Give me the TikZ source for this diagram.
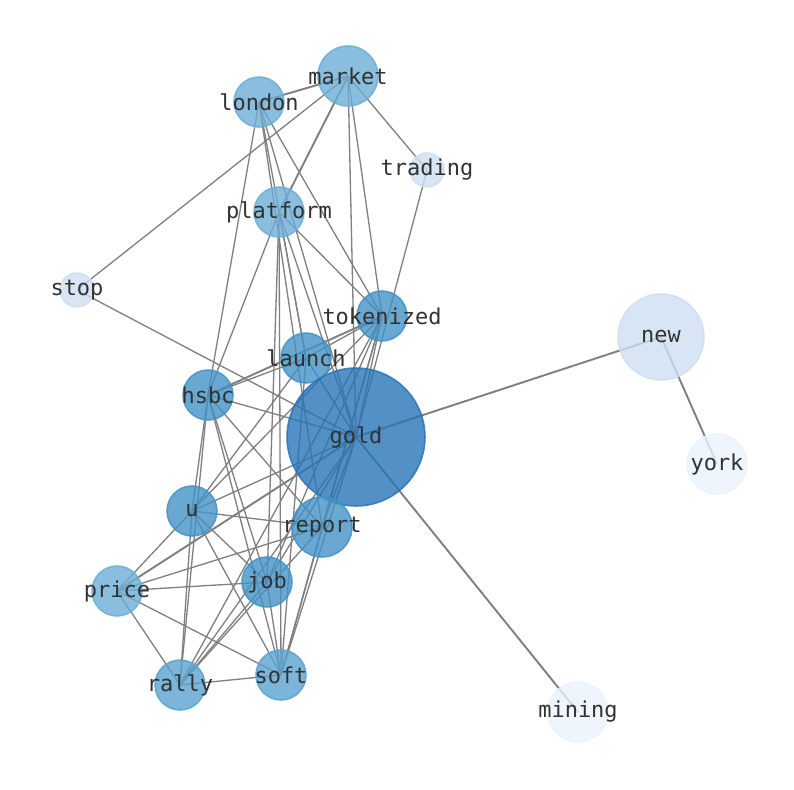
\documentclass[tikz,border=0pt]{standalone}
\usepackage{fontspec}
\setmainfont{DejaVu Sans Mono}
\usetikzlibrary{backgrounds}

\definecolor{bluedeep}{RGB}{40,116,182}
\definecolor{bluemid}{RGB}{66,146,198}
\definecolor{bluesoft}{RGB}{90,162,207}
\definecolor{bluelight}{RGB}{107,174,214}
\definecolor{bluepale}{RGB}{206,223,241}
\definecolor{bluefaint}{RGB}{234,242,251}
\definecolor{labelgray}{RGB}{50,50,50}
\definecolor{edgegray}{RGB}{128,128,128}

\newcommand{\wordlabel}[1]{\makebox[0pt]{#1}}

\tikzset{
  word/.style={circle, inner sep=0pt, fill=#1, draw=#1, line width=0.9pt,
    fill opacity=0.8, draw opacity=0.85, text opacity=1, text=labelgray,
    font=\fontsize{12.5}{15}\selectfont},
  rad/.style={minimum size={#1*0.04cm}},
  link/.style={edgegray, line width=0.75pt},
  heavy/.style={edgegray, line width=1.1pt}
}

\begin{document}
\begin{tikzpicture}[x=0.02cm, y=-0.02cm]
  \useasboundingbox (0,0) rectangle (794,790);

  % words
  \node[word=bluelight, rad=30] (market) at (348,76) {\wordlabel{market}};
  \node[word=bluelight, rad=25] (london) at (259,102) {\wordlabel{london}};
  \node[word=bluepale, rad=17] (trading) at (427,170) {\wordlabel{trading}};
  \node[word=bluelight, rad=25] (platform) at (279,212) {\wordlabel{platform}};
  \node[word=bluepale, rad=17] (stop) at (77,290) {\wordlabel{stop}};
  \node[word=bluemid, rad=25] (tokenized) at (382,316) {\wordlabel{tokenized}};
  \node[word=bluepale, rad=43] (new) at (661,337) {\wordlabel{new}};
  \node[word=bluemid, rad=25] (launch) at (306,358) {\wordlabel{launch}};
  \node[word=bluemid, rad=25] (hsbc) at (208,395) {\wordlabel{hsbc}};
  \node[word=bluedeep, rad=69] (gold) at (356,437) {\wordlabel{gold}};
  \node[word=bluefaint, rad=30] (york) at (717,464) {\wordlabel{york}};
  \node[word=bluemid, rad=25] (u) at (192,511) {\wordlabel{u}};
  \node[word=bluemid, rad=30] (report) at (322,527) {\wordlabel{report}};
  \node[word=bluelight, rad=25] (price) at (117,591) {\wordlabel{price}};
  \node[word=bluemid, rad=25] (job) at (267,582) {\wordlabel{job}};
  \node[word=bluesoft, rad=25] (rally) at (180,685) {\wordlabel{rally}};
  \node[word=bluesoft, rad=25] (soft) at (281,675) {\wordlabel{soft}};
  \node[word=bluefaint, rad=30] (mining) at (578,712) {\wordlabel{mining}};

  % co-occurrence links
  \begin{scope}[on background layer]
    \draw[heavy] (market.center) -- (london.center)
                 (market.center) -- (platform.center)
                 (gold.center) -- (new.center)
                 (gold.center) -- (mining.center)
                 (new.center) -- (york.center)
                 (tokenized.center) -- (hsbc.center)
                 (price.center) -- (gold.center);
    \foreach \a/\b in {market/stop, market/trading, market/gold, market/tokenized,
        london/hsbc, london/launch, london/gold, london/report, london/tokenized,
        trading/gold, stop/gold,
        platform/hsbc, platform/launch, platform/tokenized, platform/job,
        platform/soft, platform/gold,
        tokenized/launch, tokenized/u, tokenized/gold, tokenized/report,
        tokenized/job, tokenized/soft, tokenized/rally,
        launch/hsbc, launch/gold, launch/u, launch/soft,
        hsbc/gold, hsbc/u, hsbc/rally, hsbc/job, hsbc/soft, hsbc/report,
        gold/u, gold/report, gold/job, gold/soft, gold/rally,
        u/report, u/job, u/soft, u/rally, u/price,
        price/job, price/report, price/soft, price/rally,
        job/rally, job/soft, rally/soft, report/rally, report/soft}
      \draw[link] (\a.center) -- (\b.center);
  \end{scope}
\end{tikzpicture}
\end{document}
